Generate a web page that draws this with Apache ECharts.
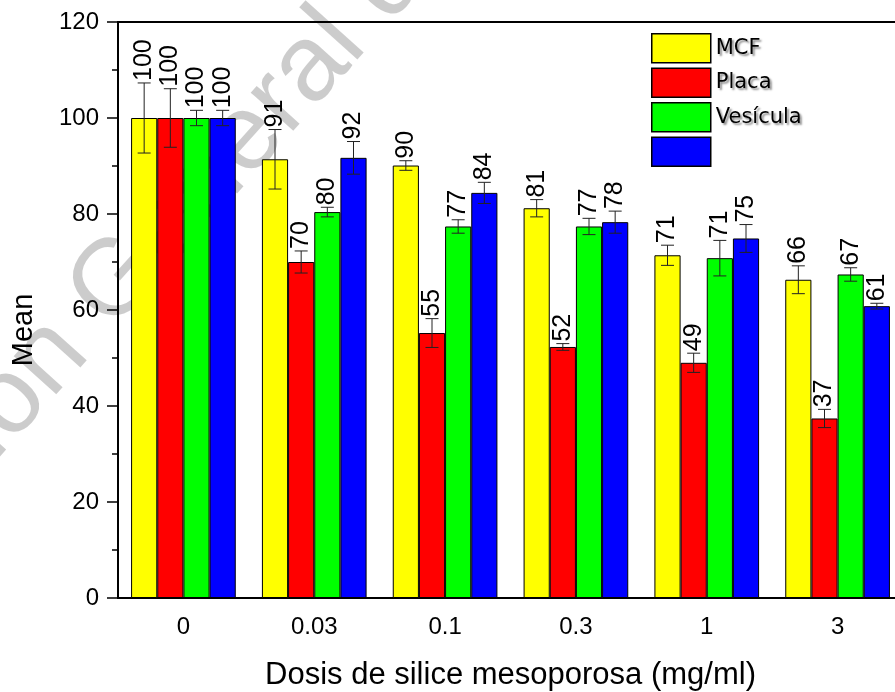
<!DOCTYPE html>
<html>
<head>
<meta charset="utf-8">
<script src="https://cdn.jsdelivr.net/npm/echarts@6/dist/echarts.min.js"></script>
<style>
  html, body { margin: 0; padding: 0; background: #fff; }
  #chart { width: 895px; height: 692px; }
</style>
</head>
<body>
<div id="chart"></div>
<script>
// doses on the x axis
const categories = ['0', '0.03', '0.1', '0.3', '1', '3'];
const seriesNames = ['MCF', 'Placa', 'Vesícula', ' '];
const seriesColors = ['#ffff00', '#ff0000', '#00ff00', '#0000ff'];

// mean values
const mcf = [100, 91.4, 90.1, 81.2, 71.4, 66.3];
const placa = [100, 70.0, 55.2, 52.3, 49.0, 37.4];
const vesicula = [100, 80.4, 77.4, 77.4, 70.8, 67.4];
const azul = [100, 91.7, 84.4, 78.3, 74.9, 60.8];

// error bars (+/-)
const mcfErr = [7.3, 6.2, 1.0, 1.8, 2.1, 2.9];
const placaErr = [6.1, 2.3, 3.0, 0.7, 2.0, 1.9];
const vesiculaErr = [1.6, 1.0, 1.4, 1.7, 3.7, 1.4];
const azulErr = [1.6, 3.4, 2.2, 2.3, 2.9, 0.6];

const yMin = 0, yMax = 120, yStep = 20;

const means = [mcf, placa, vesicula, azul];
const errs = [mcfErr, placaErr, vesiculaErr, azulErr];

const FONT = 'Liberation Sans, Arial, sans-serif';
const chart = echarts.init(document.getElementById('chart'));

function errRender(k) {
  return function (params, api) {
    const ci = api.value(0), v = api.value(1), e = api.value(2);
    const band = api.size([1, 0])[0];
    const bw = band * 0.8 / 4;
    const x = api.coord([ci, v])[0] + (k - 1.5) * bw;
    const top = api.coord([ci, v + e])[1];
    const bot = api.coord([ci, v - e])[1];
    const hw = 6.5;
    const ls = { stroke: '#222', lineWidth: 1 };
    return {
      type: 'group',
      children: [
        { type: 'line', shape: { x1: x, y1: top, x2: x, y2: bot }, style: ls },
        { type: 'line', shape: { x1: x - hw, y1: top, x2: x + hw, y2: top }, style: ls },
        { type: 'line', shape: { x1: x - hw, y1: bot, x2: x + hw, y2: bot }, style: ls },
        {
          type: 'text', x: x, y: top - 2, rotation: Math.PI / 2,
          style: {
            text: String(Math.round(v)), align: 'left', verticalAlign: 'middle',
            fontSize: 25, fontFamily: FONT, fill: '#000'
          }
        }
      ]
    };
  };
}

const series = [];
means.forEach((vals, k) => {
  series.push({
    name: seriesNames[k],
    type: 'bar',
    data: vals,
    barGap: '0%',
    barCategoryGap: '20%',
    itemStyle: { color: seriesColors[k], borderColor: '#000', borderWidth: 1 },
    z: 2
  });
});
means.forEach((vals, k) => {
  series.push({
    type: 'custom',
    renderItem: errRender(k),
    data: vals.map((v, i) => [i, v, errs[k][i]]),
    z: 5,
    silent: true
  });
});

// watermark
const wmSize = 108;
const ctx = document.createElement('canvas').getContext('2d');
ctx.font = wmSize + 'px "Liberation Sans"';
const wmPre = 'Dirección ';
const wmWord = 'General';
const wmOffset = ctx.measureText(wmPre).width + ctx.measureText(wmWord).width / 2;

chart.setOption({
  backgroundColor: '#fff',
  animation: false,
  grid: {
    left: 118, top: 22, width: 785, height: 576,
    outerBoundsMode: 'none',
    show: true, borderColor: '#000', borderWidth: 2, backgroundColor: 'transparent'
  },
  legend: {
    data: seriesNames,
    orient: 'vertical',
    left: 651, top: 33, padding: 0,
    itemWidth: 59, itemHeight: 29, itemGap: 4,
    icon: 'rect',
    selectedMode: false,
    itemStyle: { borderColor: '#000', borderWidth: 1.5 },
    textStyle: {
      fontFamily: 'DejaVu Sans', fontSize: 21, color: '#000',
      textShadowColor: 'rgba(0,0,0,0.45)', textShadowBlur: 2,
      textShadowOffsetX: 2, textShadowOffsetY: 2
    }
  },
  xAxis: [
    {
      type: 'category', data: categories,
      name: 'Dosis de silice mesoporosa (mg/ml)',
      nameLocation: 'middle', nameGap: 62,
      nameTextStyle: { fontFamily: FONT, fontSize: 31, color: '#000' },
      axisLine: { lineStyle: { color: '#000', width: 2 } },
      axisTick: { alignWithLabel: true, length: 11, lineStyle: { color: '#000', width: 1.5 } },
      axisLabel: { fontFamily: FONT, fontSize: 24, color: '#000', margin: 17 }
    },
    {
      type: 'category', data: categories,
      axisLine: { show: false },
      axisTick: { length: 6, lineStyle: { color: '#000', width: 1.5 } },
      axisLabel: { show: false }
    }
  ],
  yAxis: {
    type: 'value', min: yMin, max: yMax, interval: yStep,
    name: 'Mean', nameLocation: 'middle', nameGap: 80, nameRotate: 90,
    nameTextStyle: { fontFamily: FONT, fontSize: 29, color: '#000', padding: [0, 40, 0, 0] },
    axisLine: { show: true, lineStyle: { color: '#000', width: 2 } },
    axisTick: { show: true, length: 11, lineStyle: { color: '#000', width: 1.5 } },
    minorTick: { show: true, splitNumber: 2, length: 6, lineStyle: { color: '#000', width: 1.5 } },
    splitLine: { show: false },
    axisLabel: { fontFamily: FONT, fontSize: 24, color: '#000', margin: 19 }
  },
  series: series,
  graphic: [{
    type: 'group', x: 218, y: 170, rotation: 48 * Math.PI / 180, z: 100, silent: true,
    children: [{
      type: 'text', x: -wmOffset, y: 0,
      style: {
        text: 'Dirección General de Bibliotecas',
        fontFamily: FONT, fontSize: wmSize, fill: 'rgba(0,0,0,0.2)',
        align: 'left', verticalAlign: 'middle'
      }
    }]
  }]
});
</script>
</body>
</html>
